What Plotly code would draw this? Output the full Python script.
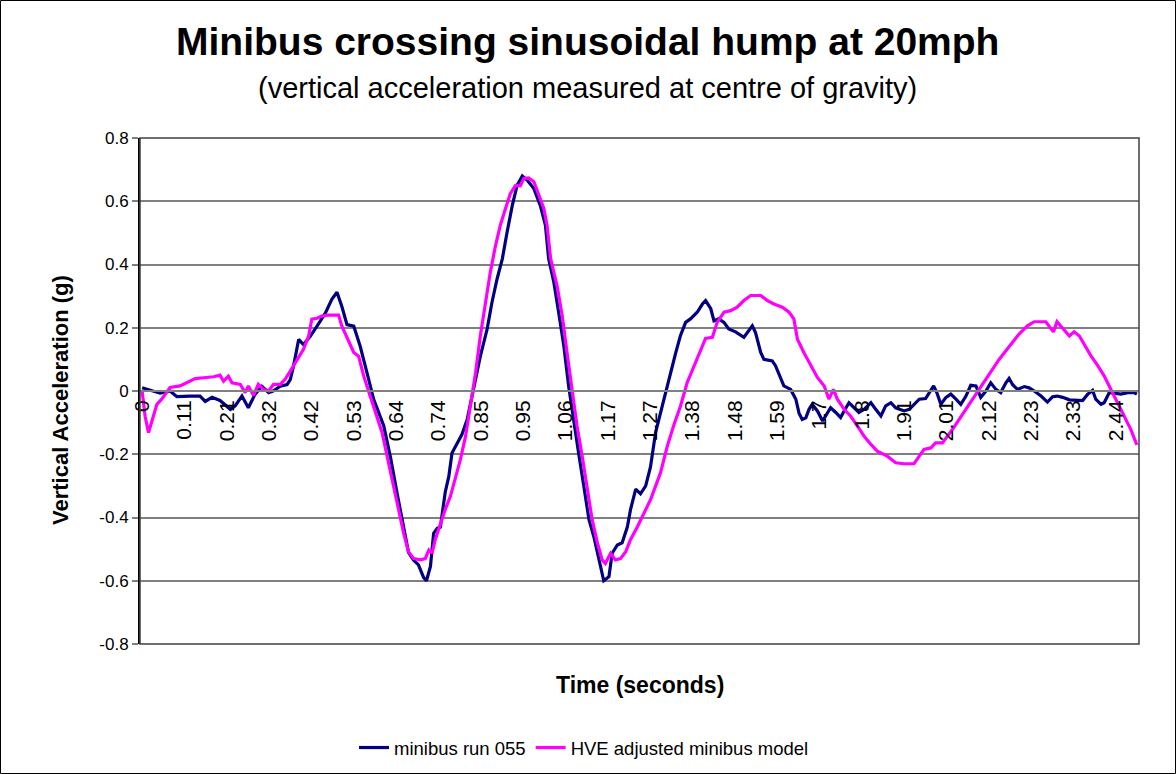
import plotly.graph_objects as go

# ---- data (time in seconds, vertical acceleration in g) ----
run055_t = [0, 0.045, 0.070, 0.087, 0.120, 0.145, 0.158, 0.175, 0.195, 0.221, 0.233, 0.250, 0.266, 0.283,
            0.300, 0.317, 0.328, 0.346, 0.363, 0.371, 0.379, 0.392, 0.404, 0.421, 0.438, 0.459, 0.475, 0.488,
            0.500, 0.513, 0.530, 0.546, 0.563, 0.580, 0.605, 0.622, 0.638, 0.655, 0.667, 0.680, 0.692, 0.705,
            0.712, 0.722, 0.730, 0.739, 0.747, 0.759, 0.768, 0.776, 0.789, 0.801, 0.814, 0.830, 0.847, 0.864,
            0.876, 0.889, 0.902, 0.914, 0.927, 0.939, 0.952, 0.964, 0.981, 0.997, 1.010, 1.018, 1.031, 1.043,
            1.056, 1.068, 1.081, 1.093, 1.106, 1.119, 1.131, 1.144, 1.156, 1.169, 1.177, 1.190, 1.202, 1.215,
            1.223, 1.236, 1.248, 1.261, 1.273, 1.286, 1.298, 1.311, 1.323, 1.336, 1.348, 1.361, 1.373, 1.390,
            1.403, 1.411, 1.424, 1.432, 1.444, 1.457, 1.469, 1.486, 1.507, 1.520, 1.528, 1.536, 1.549, 1.557,
            1.578, 1.586, 1.599, 1.607, 1.624, 1.637, 1.645, 1.653, 1.662, 1.670, 1.678, 1.691, 1.704, 1.716,
            1.724, 1.737, 1.749, 1.758, 1.770, 1.783, 1.795, 1.808, 1.825, 1.837, 1.850, 1.862, 1.875, 1.887,
            1.908, 1.921, 1.933, 1.946, 1.962, 1.975, 1.982, 1.990, 2.000, 2.013, 2.025, 2.038, 2.050, 2.063,
            2.075, 2.088, 2.100, 2.113, 2.125, 2.138, 2.150, 2.163, 2.171, 2.180, 2.192, 2.209, 2.221, 2.234,
            2.251, 2.267, 2.280, 2.292, 2.305, 2.322, 2.343, 2.355, 2.368, 2.380, 2.388, 2.401, 2.409, 2.422,
            2.434, 2.451, 2.468, 2.484, 2.491]
run055_g = [0.01, -0.007, 0.0, -0.018, -0.016, -0.016, -0.033, -0.02, -0.03, -0.058, -0.047, -0.016, -0.053, -0.01,
            0.015, -0.005, 0.0, 0.015, 0.02, 0.036, 0.078, 0.163, 0.147, 0.173, 0.205, 0.247, 0.29, 0.312,
            0.268, 0.21, 0.205, 0.142, 0.058, -0.027, -0.11, -0.21, -0.32, -0.43, -0.51, -0.535, -0.55, -0.59,
            -0.6, -0.555, -0.45, -0.434, -0.43, -0.32, -0.27, -0.196, -0.164, -0.137, -0.09, 0.005, 0.11, 0.196,
            0.28, 0.355, 0.418, 0.503, 0.587, 0.65, 0.68, 0.667, 0.64, 0.587, 0.524, 0.418, 0.344, 0.249,
            0.143, 0.016, -0.1, -0.196, -0.3, -0.407, -0.46, -0.534, -0.6, -0.587, -0.513, -0.487, -0.48, -0.43,
            -0.375, -0.31, -0.325, -0.3, -0.24, -0.13, -0.07, 0.005, 0.058, 0.12, 0.175, 0.217, 0.228, 0.249,
            0.275, 0.286, 0.26, 0.222, 0.228, 0.217, 0.196, 0.187, 0.17, 0.19, 0.206, 0.185, 0.122, 0.1,
            0.095, 0.08, 0.037, 0.016, 0.005, -0.026, -0.07, -0.09, -0.085, -0.058, -0.042, -0.063, -0.095, -0.068,
            -0.053, -0.068, -0.084, -0.063, -0.037, -0.053, -0.068, -0.058, -0.037, -0.058, -0.079, -0.047, -0.037, -0.053,
            -0.063, -0.058, -0.042, -0.026, -0.024, 0.005, 0.016, -0.005, -0.042, -0.02, -0.01, -0.026, -0.042, -0.016,
            0.018, 0.016, -0.02, 0.0, 0.026, 0.005, -0.005, 0.026, 0.04, 0.02, 0.005, 0.014, 0.01, 0.0,
            -0.016, -0.035, -0.018, -0.016, -0.02, -0.028, -0.028, -0.03, -0.01, 0.002, -0.026, -0.042, -0.037, -0.005,
            -0.007, -0.01, -0.005, -0.005, -0.01]

hve_t = [0, 0.0075, 0.016, 0.024, 0.037, 0.049, 0.062, 0.070, 0.095, 0.112, 0.133, 0.154, 0.179, 0.195,
         0.204, 0.216, 0.225, 0.246, 0.258, 0.266, 0.279, 0.291, 0.304, 0.317, 0.329, 0.346, 0.358, 0.371,
         0.388, 0.404, 0.417, 0.425, 0.438, 0.450, 0.463, 0.492, 0.500, 0.513, 0.530, 0.542, 0.555, 0.571,
         0.588, 0.601, 0.617, 0.638, 0.655, 0.667, 0.680, 0.697, 0.709, 0.718, 0.726, 0.734, 0.747, 0.759,
         0.772, 0.784, 0.797, 0.810, 0.822, 0.835, 0.847, 0.860, 0.872, 0.885, 0.897, 0.910, 0.922, 0.935,
         0.947, 0.956, 0.968, 0.981, 0.993, 1.006, 1.014, 1.023, 1.039, 1.052, 1.064, 1.077, 1.089, 1.102,
         1.115, 1.127, 1.140, 1.152, 1.160, 1.173, 1.185, 1.198, 1.211, 1.223, 1.240, 1.256, 1.273, 1.298,
         1.315, 1.331, 1.348, 1.365, 1.382, 1.398, 1.411, 1.428, 1.440, 1.457, 1.474, 1.490, 1.507, 1.524,
         1.549, 1.566, 1.582, 1.603, 1.620, 1.632, 1.641, 1.657, 1.674, 1.691, 1.708, 1.720, 1.731, 1.741,
         1.758, 1.774, 1.791, 1.808, 1.825, 1.841, 1.866, 1.887, 1.908, 1.933, 1.946, 1.958, 1.975, 1.987,
         2.004, 2.017, 2.029, 2.046, 2.063, 2.079, 2.096, 2.113, 2.130, 2.146, 2.163, 2.180, 2.196, 2.217,
         2.234, 2.263, 2.271, 2.282, 2.291, 2.305, 2.322, 2.334, 2.347, 2.359, 2.376, 2.393, 2.409, 2.426,
         2.443, 2.459, 2.476, 2.489, 2.491]
hve_g = [0.0, -0.08, -0.132, -0.1, -0.042, -0.026, -0.005, 0.011, 0.016, 0.026, 0.039, 0.042, 0.045, 0.05,
         0.031, 0.047, 0.026, 0.021, -0.005, 0.016, -0.014, 0.021, 0.005, 0.0, 0.021, 0.021, 0.037, 0.063,
         0.1, 0.132, 0.174, 0.227, 0.23, 0.237, 0.24, 0.24, 0.206, 0.17, 0.122, 0.11, 0.047, -0.016,
         -0.08, -0.132, -0.227, -0.354, -0.45, -0.508, -0.53, -0.534, -0.53, -0.503, -0.513, -0.47, -0.418, -0.375,
         -0.333, -0.28, -0.217, -0.143, -0.048, 0.058, 0.175, 0.28, 0.376, 0.46, 0.524, 0.577, 0.624, 0.65,
         0.649, 0.672, 0.674, 0.662, 0.62, 0.577, 0.524, 0.418, 0.333, 0.238, 0.122, -0.005, -0.11, -0.206,
         -0.312, -0.407, -0.48, -0.534, -0.545, -0.513, -0.534, -0.53, -0.508, -0.47, -0.43, -0.386, -0.344, -0.259,
         -0.175, -0.11, -0.048, 0.027, 0.08, 0.132, 0.166, 0.17, 0.217, 0.249, 0.254, 0.265, 0.286, 0.302,
         0.302, 0.286, 0.275, 0.265, 0.249, 0.228, 0.164, 0.122, 0.08, 0.043, 0.016, -0.026, 0.005, -0.026,
         -0.058, -0.079, -0.11, -0.143, -0.169, -0.19, -0.206, -0.227, -0.23, -0.23, -0.206, -0.185, -0.18, -0.164,
         -0.164, -0.143, -0.122, -0.09, -0.058, -0.026, 0.005, 0.037, 0.069, 0.1, 0.127, 0.153, 0.18, 0.206,
         0.219, 0.219, 0.206, 0.187, 0.219, 0.2, 0.174, 0.187, 0.174, 0.148, 0.111, 0.08, 0.048, 0.005,
         -0.037, -0.079, -0.122, -0.164, -0.17]

x_tick_times = [0, 0.106, 0.212, 0.318, 0.424, 0.53, 0.636, 0.742, 0.848, 0.954, 1.06, 1.166,
                1.272, 1.378, 1.484, 1.59, 1.696, 1.802, 1.908, 2.014, 2.12, 2.226, 2.332, 2.438]
x_tick_labels = ["0", "0.11", "0.21", "0.32", "0.42", "0.53", "0.64", "0.74", "0.85", "0.95", "1.06", "1.17",
                 "1.27", "1.38", "1.48", "1.59", "1.7", "1.8", "1.91", "2.01", "2.12", "2.23", "2.33", "2.44"]
y_tick_vals = [-0.8, -0.6, -0.4, -0.2, 0, 0.2, 0.4, 0.6, 0.8]
y_tick_labels = ["-0.8", "-0.6", "-0.4", "-0.2", "0", "0.2", "0.4", "0.6", "0.8"]

FONT = "Arial, Liberation Sans, sans-serif"

fig = go.Figure()
fig.add_trace(go.Scatter(x=run055_t, y=run055_g, mode="lines", name="minibus run 055",
                         line=dict(color="#000080", width=3.2)))
fig.add_trace(go.Scatter(x=hve_t, y=hve_g, mode="lines", name="HVE adjusted minibus model",
                         line=dict(color="#FF00FF", width=3.2)))

W, H = 1176, 774
L, R, T, B = 140, 37, 138, 130
pw, ph = W - L - R, H - T - B

def px(xp):
    return (xp - L) / pw

def py(yp):
    return (H - B - yp) / ph

fig.update_layout(
    width=W, height=H,
    margin=dict(l=L, r=R, t=T, b=B, autoexpand=False),
    paper_bgcolor="white", plot_bgcolor="white",
    font=dict(family=FONT, color="black"),
    showlegend=True,
    legend=dict(orientation="h", x=px(584), y=py(748), xanchor="center", yanchor="middle",
                font=dict(size=18.5, family=FONT), bgcolor="rgba(0,0,0,0)",
                tracegroupgap=0),
    xaxis=dict(range=[-0.0053, 2.4963], tickmode="array", tickvals=x_tick_times, ticktext=x_tick_labels,
               tickangle=-90, tickfont=dict(size=21, family=FONT), anchor="free", position=0.5,
               showline=True, linecolor="#808080", linewidth=2, showgrid=False, zeroline=False,
               ticks="", ticklen=0),
    yaxis=dict(range=[-0.8, 0.8], tickmode="array", tickvals=y_tick_vals, ticktext=y_tick_labels,
               tickfont=dict(size=17, family=FONT), showgrid=True, gridcolor="#808080", gridwidth=2,
               zeroline=False, showline=True, linecolor="black", linewidth=2, ticks="outside",
               ticklen=6, tickcolor="#808080", tickwidth=2),
)

# plot-area border (top and right)
fig.add_shape(type="rect", xref="paper", yref="paper", x0=0, x1=1, y0=0, y1=1,
              line=dict(color="#404040", width=1.5), layer="above")
# chart-area outer border
fig.add_shape(type="rect", xref="paper", yref="paper", x0=px(0.5), x1=px(W - 0.5), y0=py(H - 0.5), y1=py(0.5),
              line=dict(color="black", width=1))

fig.add_annotation(text="<b>Minibus crossing sinusoidal hump at 20mph</b>", xref="paper", yref="paper",
                   x=px(587), y=py(42), showarrow=False, xanchor="center", yanchor="middle",
                   font=dict(size=39, family=FONT))
fig.add_annotation(text="(vertical acceleration measured at centre of gravity)", xref="paper", yref="paper",
                   x=px(587), y=py(88), showarrow=False, xanchor="center", yanchor="middle",
                   font=dict(size=29, family=FONT))
fig.add_annotation(text="<b>Vertical Acceleration (g)</b>", xref="paper", yref="paper",
                   x=px(60), y=py(400), showarrow=False, xanchor="center", yanchor="middle", textangle=-90,
                   font=dict(size=22, family=FONT))
fig.add_annotation(text="<b>Time (seconds)</b>", xref="paper", yref="paper",
                   x=px(640), y=py(685), showarrow=False, xanchor="center", yanchor="middle",
                   font=dict(size=23, family=FONT))

fig.write_html("out.html", config={"displayModeBar": False},
               post_script="document.body.style.margin='0';")
